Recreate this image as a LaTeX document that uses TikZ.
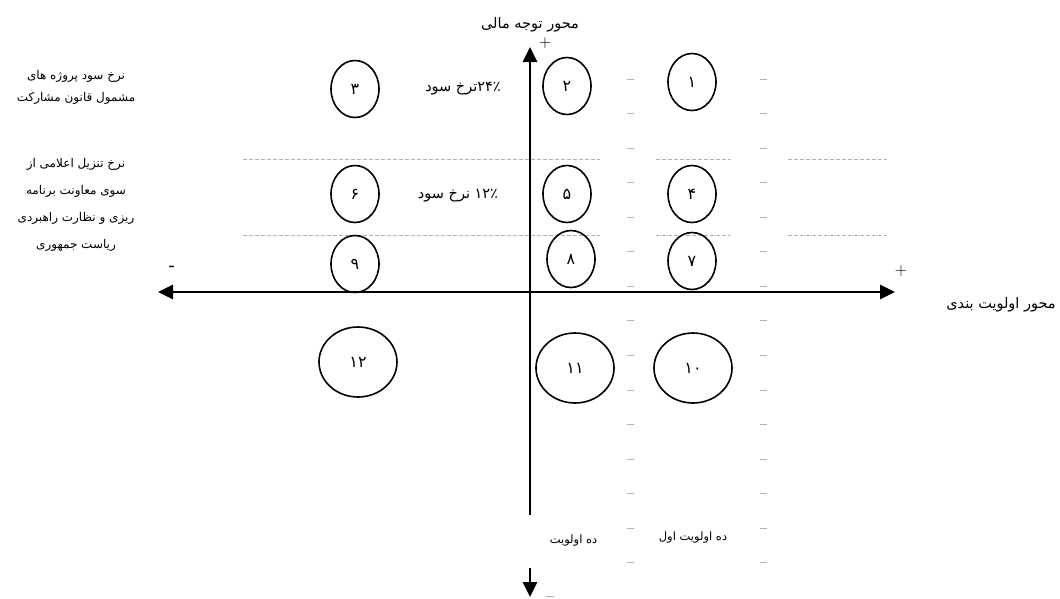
\documentclass[tikz,border=0pt]{standalone}
\usepackage{fontspec}
\newfontfamily\arabicfont[Script=Arabic]{DejaVu Sans}
\usetikzlibrary{shapes.geometric,arrows.meta}
\TeXXeTstate=1
\newcommand{\fatxt}[1]{\beginR#1\endR}

\begin{document}
\begin{tikzpicture}[x=1pt,y=-1pt,
    circ/.style={draw,ellipse,line width=1.6pt,inner sep=0pt,minimum width=48pt,minimum height=57pt,font=\fontsize{16}{16}\arabicfont},
    bigcirc/.style={circ,minimum width=78pt,minimum height=70pt},
    axisline/.style={line width=2.8pt,{Triangle[length=15pt,width=14pt]}-{Triangle[length=15pt,width=14pt]}},
    sepline/.style={gray!60,line width=0.8pt,dash pattern=on 4pt off 2pt},
    tickmark/.style={gray!60,line width=1pt},
    lbl/.style={font=\fontsize{12}{14}\arabicfont,align=center},
    big lbl/.style={font=\fontsize{14.5}{16}\arabicfont},
    small lbl/.style={font=\fontsize{11.5}{13}\arabicfont},
    pm/.style={font=\fontsize{16}{16}\selectfont,inner sep=0pt}]
      \useasboundingbox (0,0) rectangle (1060,598);
      % separator lines between the rate bands
      \draw[sepline] (243,159) -- (600,159);
      \draw[sepline] (656,159) -- (731,159);
      \draw[sepline] (788,159) -- (887,159);
      \draw[sepline] (243,235) -- (600,235);
      \draw[sepline] (656,235) -- (731,235);
      \draw[sepline] (788,235) -- (887,235);
      \foreach \k in {0,...,14} {
        \draw[tickmark] (627,{79+34.57*\k}) -- (634,{79+34.57*\k});
        \draw[tickmark] (760,{79+34.57*\k}) -- (767,{79+34.57*\k});
      }
      \draw[tickmark] (546,596) -- (554,596);
      % axes
      \coordinate (W) at (158,292);
      \coordinate (E) at (895,292);
      \coordinate (N) at (530,47);
      \coordinate (S) at (530,597);
      \draw[axisline] (W) -- (E);
      \draw[axisline] (S) -- (N);
      \node[big lbl] (yaxis) at (530,25) {\fatxt{محور توجه مالی}};
      \node[big lbl] (xaxis) at (1001,305) {\fatxt{محور اولویت بندی}};
      \node[pm] (plusN) at (545,43) {$+$};
      \node[pm] (plusE) at (901,271) {$+$};
      \node[pm,font=\fontsize{16}{16}\bfseries] (minusW) at (172,268) {-};
      % circles
      \node[circ] (1) at (692,82) {۱};
      \node[circ] (2) at (567,86) {۲};
      \node[circ] (3) at (355,89) {۳};
      \node[circ] (4) at (692,194) {۴};
      \node[circ] (5) at (567,194) {۵};
      \node[circ] (6) at (355,194) {۶};
      \node[circ] (7) at (692,261) {۷};
      \node[circ] (8) at (571,259) {۸};
      \node[circ] (9) at (355,264) {۹};
      \node[bigcirc] (10) at (693,368) {۱۰};
      \node[bigcirc] (11) at (575,368) {۱۱};
      \node[bigcirc] (12) at (358,362) {۱۲};
      % rate labels
      \node[big lbl] (rate24) at (463,89) {\fatxt{۲۴٪ترخ سود}};
      \node[big lbl] (rate12) at (458,196) {\fatxt{۱۲٪ نرخ سود}};
      \node[lbl,font=\fontsize{12}{22}\arabicfont] (law) at (76,87)
        {\fatxt{نرخ سود پروژه های}\\\fatxt{مشمول قانون مشارکت}};
      \node[lbl,font=\fontsize{12}{27}\arabicfont] (discount) at (76,205)
        {\fatxt{نرخ تنزیل اعلامی از}\\\fatxt{سوی معاونت برنامه}\\\fatxt{ریزی و نظارت راهبردی}\\\fatxt{ریاست جمهوری}};
      % priority labels
      \node[small lbl,fill=white,minimum width=93pt,minimum height=53pt] (ten) at (573.5,541) {\fatxt{ده اولویت}};
      \node[small lbl] (tenfirst) at (693,538) {\fatxt{ده اولویت اول}};
    \end{tikzpicture}
\end{document}
